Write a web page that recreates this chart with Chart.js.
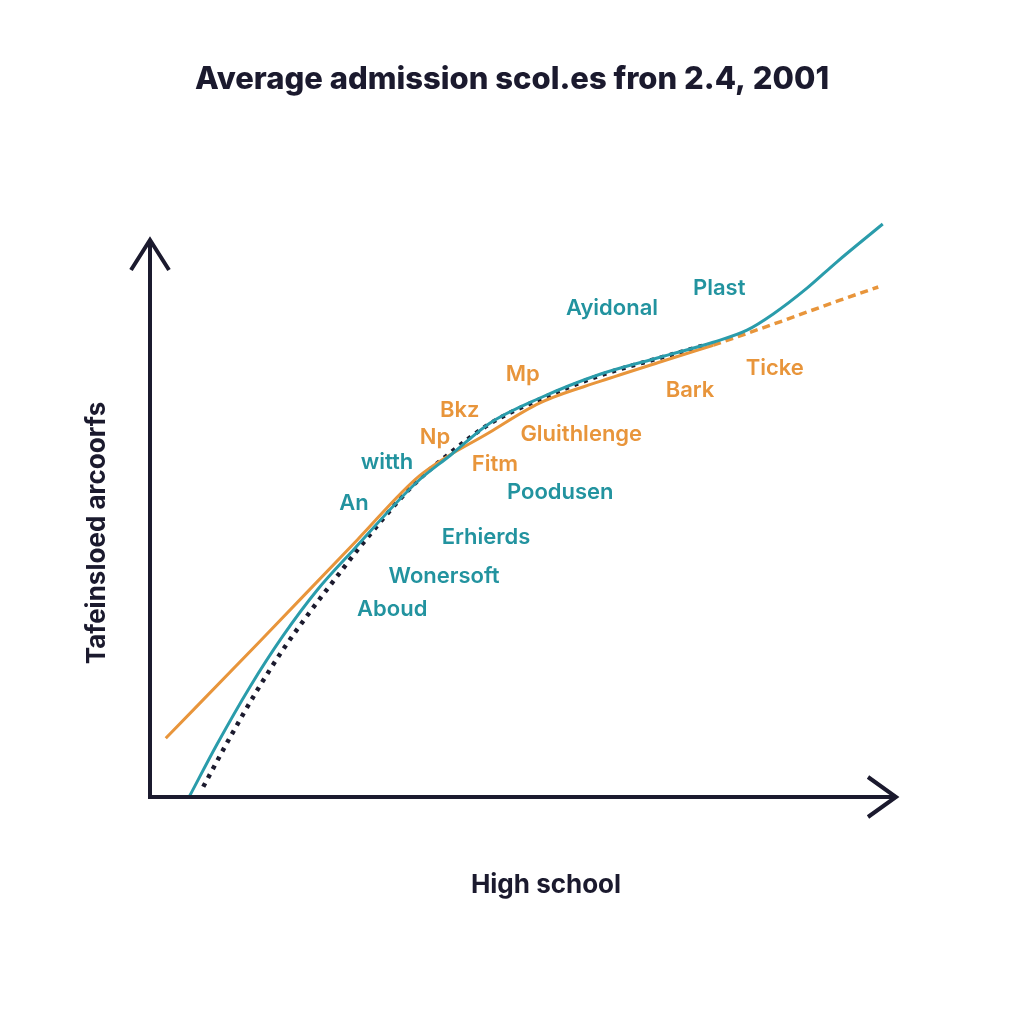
<!DOCTYPE html>
<html>
<head>
<meta charset="utf-8">
<title>Average admission scores</title>
<script src="https://cdn.jsdelivr.net/npm/chart.js@4.4.1/dist/chart.umd.min.js"></script>
<style>
  html, body { margin: 0; padding: 0; background: #ffffff; }
  #wrap { width: 1024px; height: 1024px; }
</style>
</head>
<body>
<div id="wrap"><canvas id="chart" width="1024" height="1024"></canvas></div>
<script>
// values (x: 0-100 along the horizontal axis, y: 0-100 up the vertical one)
const tealX = [5.3, 8.9, 13.3, 17.7, 22.3, 27.2, 35.6, 40.1, 45.3, 52, 60.1, 68, 75.1, 79.6, 83.1, 87.6, 91.6, 97.7];
const tealY = [0.2, 8.7, 18.3, 26.8, 34.5, 41.3, 52.5, 57, 62.3, 66.5, 70.5, 73.3, 75.8, 77.8, 80.5, 84.8, 89.2, 95.5];

const orangeX = [2.1, 14.7, 27.6, 36, 45.3, 52, 60.1, 68, 75.1];
const orangeY = [9.8, 26, 42.8, 53.6, 60.8, 65.7, 69.3, 72.5, 75.3];

const orangeDashX = [75.1, 84, 92, 97.1];
const orangeDashY = [75.3, 79.2, 82.8, 85];

const dottedX = [7.1, 10.7, 14.3, 17.7, 21.3, 24.9, 28, 35.1, 40, 45.3, 52, 60.1, 68, 74];
const dottedY = [1.7, 10, 17.8, 24.5, 30.8, 36.7, 41.7, 52, 57.3, 62.2, 66.3, 70.3, 73.2, 75.3];

// floating words and where they sit, in the same units
const wordText = ['Ayidonal', 'Plast', 'Mp', 'Ticke', 'Bark', 'Bkz', 'Np', 'Gluithlenge', 'witth', 'Fitm', 'An', 'Poodusen', 'Erhierds', 'Wonersoft', 'Aboud'];
const wordX = [61.6, 75.9, 49.7, 83.3, 72, 41.3, 38, 57.5, 31.6, 46, 27.2, 54.7, 44.8, 39.2, 32.3];
const wordY = [81.5, 84.8, 70.5, 71.5, 67.8, 64.5, 60, 60.5, 55.7, 55.5, 49, 50.7, 43.2, 36.7, 31.2];
const wordTone = ['t', 't', 'o', 'o', 'o', 'o', 'o', 'o', 't', 'o', 't', 't', 't', 't', 't'];

const titleText = 'Average admission scol.es fron 2.4, 2001';
const xTitle = 'High school';
const yTitle = 'Tafeinsloed arcoorfs';

const TEAL = '#2a9cab';
const TEAL_TEXT = '#22939f';
const ORANGE = '#e8953b';
const INK = '#1b1a2e';

function pts(xs, ys) {
    return xs.map(function (x, i) { return {x: x, y: ys[i]}; });
}

// axes with arrow heads, titles and the scattered words
const decor = {
    id: 'decor',
    afterDatasetsDraw(chart) {
        const ctx = chart.ctx;
        const a = chart.chartArea;
        const xs = chart.scales.x, ys = chart.scales.y;

        ctx.save();
        ctx.strokeStyle = INK;
        ctx.lineWidth = 4;
        ctx.lineJoin = 'miter';
        ctx.lineCap = 'butt';

        const topTip = 240, rightTip = 896;
        ctx.beginPath();
        ctx.moveTo(a.left, a.bottom + 2);
        ctx.lineTo(a.left, topTip);
        ctx.moveTo(a.left - 19, topTip + 30);
        ctx.lineTo(a.left, topTip);
        ctx.lineTo(a.left + 19, topTip + 30);
        ctx.stroke();

        ctx.beginPath();
        ctx.moveTo(a.left - 2, a.bottom);
        ctx.lineTo(rightTip, a.bottom);
        ctx.moveTo(rightTip - 28, a.bottom - 20);
        ctx.lineTo(rightTip, a.bottom);
        ctx.lineTo(rightTip - 28, a.bottom + 20);
        ctx.stroke();

        ctx.fillStyle = INK;
        ctx.textAlign = 'center';
        ctx.textBaseline = 'middle';
        ctx.font = '800 31px Inter, "Liberation Sans", sans-serif';
        ctx.fillText(titleText, 512, 80);

        ctx.font = 'bold 26px Inter, "Liberation Sans", sans-serif';
        ctx.fillText(xTitle, 546, 885);

        ctx.save();
        ctx.translate(97, 533);
        ctx.rotate(-Math.PI / 2);
        ctx.fillText(yTitle, 0, 0);
        ctx.restore();

        ctx.font = '600 22px Inter, "Liberation Sans", sans-serif';
        wordText.forEach(function (w, i) {
            ctx.fillStyle = wordTone[i] === 'o' ? ORANGE : TEAL_TEXT;
            ctx.fillText(w, xs.getPixelForValue(wordX[i]), ys.getPixelForValue(wordY[i]));
        });
        ctx.restore();
    }
};

const data = {
    datasets: [{
        label: 'teal',
        data: pts(tealX, tealY),
        borderColor: TEAL,
        borderWidth: 3,
        pointRadius: 0,
        cubicInterpolationMode: 'monotone'
    }, {
        label: 'orange',
        data: pts(orangeX, orangeY),
        borderColor: ORANGE,
        borderWidth: 3,
        pointRadius: 0,
        cubicInterpolationMode: 'monotone'
    }, {
        label: 'orange trend',
        data: pts(orangeDashX, orangeDashY),
        borderColor: ORANGE,
        borderWidth: 3.5,
        borderDash: [8, 5],
        pointRadius: 0,
        cubicInterpolationMode: 'monotone'
    }, {
        label: 'fit',
        data: pts(dottedX, dottedY),
        borderColor: INK,
        borderWidth: 4.5,
        borderDash: [4, 6],
        pointRadius: 0,
        cubicInterpolationMode: 'monotone'
    }]
};

const config = {
    type: 'line',
    data,
    options: {
        responsive: false,
        animation: false,
        clip: false,
        layout: { padding: { left: 150, right: 124, top: 197, bottom: 227 } },
        plugins: {
            legend: { display: false },
            title: { display: false },
            tooltip: { enabled: false }
        },
        scales: {
            x: { type: 'linear', min: 0, max: 100, display: false },
            y: { type: 'linear', min: 0, max: 100, display: false }
        }
    },
    plugins: [decor]
};

new Chart(document.getElementById('chart'), config);
</script>
</body>
</html>
